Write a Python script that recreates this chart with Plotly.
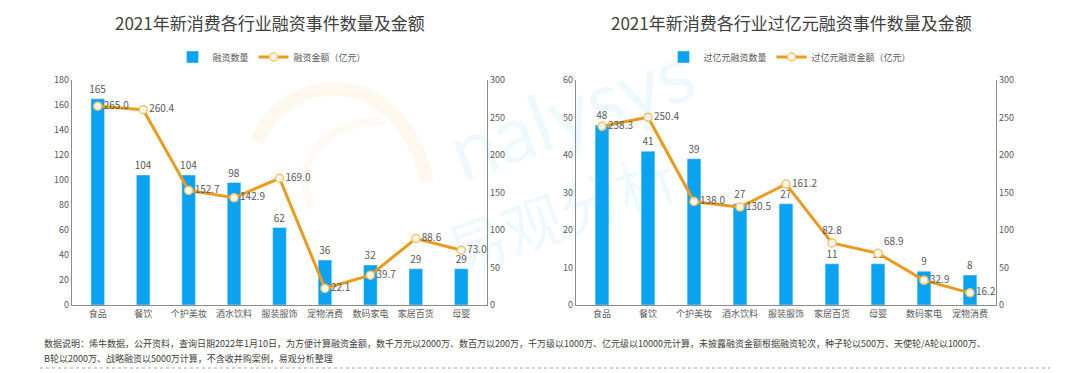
import plotly.graph_objects as go

# ---- data ----
cats_left = ["食品", "餐饮", "个护美妆", "酒水饮料", "服装服饰", "宠物消费", "数码家电", "家居百货", "母婴"]
count_left = [165, 104, 104, 98, 62, 36, 32, 29, 29]
amount_left = [265.0, 260.4, 152.7, 142.9, 169.0, 22.1, 39.7, 88.6, 73.0]

cats_right = ["食品", "餐饮", "个护美妆", "酒水饮料", "服装服饰", "家居百货", "母婴", "数码家电", "宠物消费"]
count_right = [48, 41, 39, 27, 27, 11, 11, 9, 8]
amount_right = [238.3, 250.4, 138.0, 130.5, 161.2, 82.8, 68.9, 32.9, 16.2]

title_left = "2021年新消费各行业融资事件数量及金额"
title_right = "2021年新消费各行业过亿元融资事件数量及金额"
note_1 = "数据说明：烯牛数据，公开资料，查询日期2022年1月10日，为方便计算融资金额，数千万元以2000万、数百万以200万，千万级以1000万、亿元级以10000元计算，未披露融资金额根据融资轮次，种子轮以500万、天使轮/A轮以1000万、"
note_2 = "B轮以2000万、战略融资以5000万计算，不含收并购案例，易观分析整理"

W, H = 1080, 373
FONT = "Noto Sans CJK SC"
BLUE = "#0AA3F2"
ORANGE = "#EB9A1E"
TXT = "#595959"

def px(x):
    return x / W

def py(y):
    return 1 - y / H

def path(cmds):
    out = []
    for c, pts in cmds:
        out.append(c + " ".join(f"{px(x):.4f},{py(y):.4f}" for x, y in pts))
    return " ".join(out)

fig = go.Figure()

lbl_pos_left = ["middle right"] * 9
lbl_pos_right = ["middle right"] * 9
lbl_pos_right[5] = "top center"
lbl_pos_right[6] = "top right"

bar_kw = dict(marker_color=BLUE, width=0.3, textposition="outside", constraintext="none",
              textfont=dict(size=10, color=TXT, family=FONT), cliponaxis=False)
line_kw = dict(mode="lines+markers+text", line=dict(color=ORANGE, width=3),
               marker=dict(size=8, color="#FFF8EC", line=dict(color="#F6C46E", width=1.5)),
               textfont=dict(size=10, color=TXT, family=FONT), cliponaxis=False)

# left chart
fig.add_trace(go.Bar(x=cats_left, y=count_left, name="融资数量",
                     text=[str(v) for v in count_left],
                     xaxis="x", yaxis="y", legend="legend", **bar_kw))
fig.add_trace(go.Scatter(x=cats_left, y=amount_left, name="融资金额（亿元）",
                         text=[f"{v:.1f}" for v in amount_left], textposition=lbl_pos_left,
                         xaxis="x", yaxis="y2", legend="legend", **line_kw))

# right chart
fig.add_trace(go.Bar(x=cats_right, y=count_right, name="过亿元融资数量",
                     text=[str(v) for v in count_right],
                     xaxis="x2", yaxis="y3", legend="legend2", **bar_kw))
fig.add_trace(go.Scatter(x=cats_right, y=amount_right, name="过亿元融资金额（亿元）",
                         text=[f"{v:.1f}" for v in amount_right], textposition=lbl_pos_right,
                         xaxis="x2", yaxis="y4", legend="legend2", **line_kw))

ydom = [py(305), py(80)]
axis_common = dict(showgrid=False, zeroline=False, showline=True, linecolor="#8C8C8C", linewidth=1.2,
                   tickfont=dict(size=9, color=TXT, family=FONT), ticks="", automargin=False)

fig.update_layout(
    width=W, height=H,
    margin=dict(l=0, r=0, t=0, b=0, autoexpand=False),
    paper_bgcolor="white", plot_bgcolor="rgba(0,0,0,0)",
    font=dict(family=FONT, color=TXT),
    xaxis=dict(domain=[px(72), px(487)], anchor="y", **axis_common),
    yaxis=dict(domain=ydom, anchor="x", range=[0, 180], dtick=20, **axis_common),
    yaxis2=dict(domain=ydom, anchor="x", overlaying="y", side="right", range=[0, 300], dtick=50, **axis_common),
    xaxis2=dict(domain=[px(576), px(996)], anchor="y3", **axis_common),
    yaxis3=dict(domain=ydom, anchor="x2", range=[0, 60], dtick=10, **axis_common),
    yaxis4=dict(domain=ydom, anchor="x2", overlaying="y3", side="right", range=[0, 300], dtick=50, **axis_common),
    legend=dict(orientation="h", x=px(272), xanchor="center", y=py(57), yanchor="middle",
                font=dict(size=9, color=TXT, family=FONT), bgcolor="rgba(0,0,0,0)",
                itemwidth=30, tracegroupgap=0),
    legend2=dict(orientation="h", x=px(790), xanchor="center", y=py(57), yanchor="middle",
                 font=dict(size=9, color=TXT, family=FONT), bgcolor="rgba(0,0,0,0)",
                 itemwidth=30, tracegroupgap=0),
    showlegend=True,
)

annos = [
    # faint watermark
    dict(text="nalysys", x=px(570), y=py(110), xref="paper", yref="paper", showarrow=False,
         textangle=-20, font=dict(size=80, color="rgba(10,163,242,0.07)", family="Lato"),
         xanchor="center", yanchor="middle"),
    dict(text="易观分析", x=px(560), y=py(210), xref="paper", yref="paper", showarrow=False,
         textangle=-20, font=dict(size=60, color="rgba(10,163,242,0.07)", family=FONT),
         xanchor="center", yanchor="middle"),
    dict(text=title_left, x=px(270), y=py(22), xref="paper", yref="paper", showarrow=False,
         font=dict(size=17, color="#404040", family=FONT), xanchor="center", yanchor="middle"),
    dict(text=title_right, x=px(791), y=py(22), xref="paper", yref="paper", showarrow=False,
         font=dict(size=17, color="#404040", family=FONT), xanchor="center", yanchor="middle"),
    dict(text=note_1, x=px(42), y=py(343), xref="paper", yref="paper", showarrow=False,
         font=dict(size=9, color="#404040", family=FONT), xanchor="left", yanchor="middle"),
    dict(text=note_2, x=px(42), y=py(358), xref="paper", yref="paper", showarrow=False,
         font=dict(size=9, color="#404040", family=FONT), xanchor="left", yanchor="middle"),
]
fig.update_layout(annotations=annos)
fig.add_shape(type="line", xref="paper", yref="paper", x0=px(40), x1=px(1050), y0=py(368), y1=py(368),
              line=dict(color="#A6A6A6", width=1, dash="dot"))
# orange arcs of the watermark logo
fig.add_shape(type="path", xref="paper", yref="paper", layer="below",
              path=path([("M", [(257, 142)]), ("C", [(285, 70), (400, 60), (427, 182)])]),
              line=dict(color="rgba(245,160,40,0.08)", width=14))
fig.add_shape(type="path", xref="paper", yref="paper", layer="below",
              path=path([("M", [(312, 208)]), ("C", [(288, 160), (330, 118), (385, 122)])]),
              line=dict(color="rgba(245,160,40,0.06)", width=8))

fig.write_html("out.html", config={"displayModeBar": False},
               post_script="document.body.style.margin='0';")
